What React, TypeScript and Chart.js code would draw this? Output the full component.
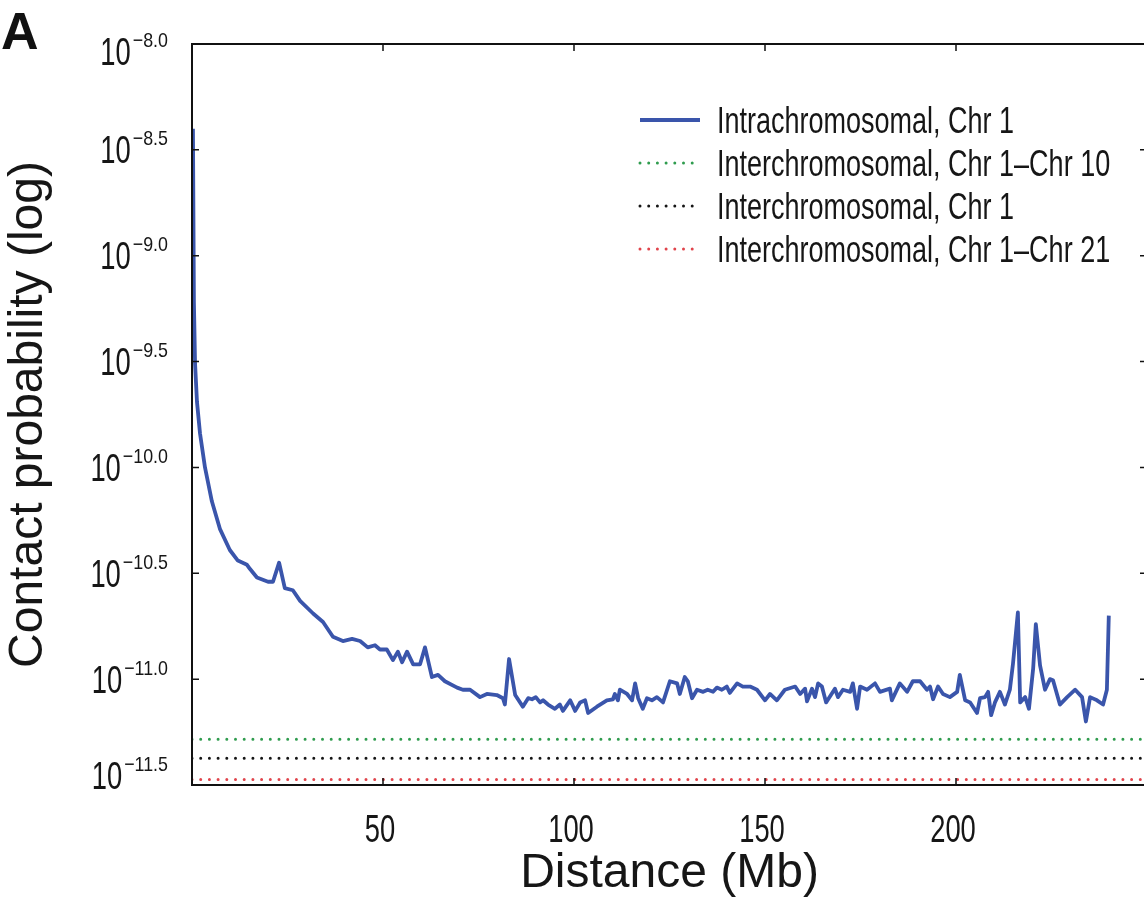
import React, { useEffect, useRef } from 'react';
import { Chart, registerables } from 'chart.js';

Chart.register(...registerables);

// Distance (Mb) and log10 contact probability
const distanceMb = [
  0.25, 0.5, 0.8, 1.3, 2.1, 3.4, 5.2, 7.3, 9.9, 12.0, 14.4, 15.2, 17.0, 19.9, 21.2, 22.8, 24.3, 26.4, 28.3,
  31.7, 34.3, 36.9, 39.5, 41.9, 44.0, 46.0, 47.9, 49.2, 51.0, 52.6, 53.9, 55.0, 56.3, 57.9, 59.7, 61.0,
  62.8, 64.4, 66.2, 69.4, 70.9, 72.8, 75.4, 77.2, 79.8, 81.4, 81.9, 83.0, 84.6, 86.6, 88.0, 89.0, 90.0,
  91.1, 91.9, 93.2, 95.0, 96.3, 97.1, 99.0, 100.3, 101.6, 102.9, 103.7, 106.0, 108.6, 110.2, 110.7, 111.5,
  112.0, 113.9, 115.2, 116.0, 116.8, 118.0, 119.1, 120.4, 121.7, 123.3, 125.1, 127.0, 127.7, 129.0, 129.8,
  130.9, 132.2, 133.8, 135.0, 136.4, 137.4, 138.7, 140.0, 140.8, 142.7, 144.2, 146.1, 147.9, 150.0, 151.3,
  153.1, 155.2, 157.9, 159.2, 160.5, 161.0, 162.3, 163.1, 163.9, 164.9, 166.0, 168.3, 169.1, 170.4, 172.3,
  173.0, 174.1, 174.9, 176.7, 178.8, 180.1, 182.7, 183.2, 185.3, 187.2, 188.7, 190.6, 192.4, 193.2, 194.0,
  195.3, 196.6, 198.4, 200.3, 201.0, 202.4, 203.7, 205.5, 206.3, 207.6, 208.4, 209.2, 210.2, 211.5, 212.8,
  214.1, 214.9, 216.2, 216.8, 218.1, 219.1, 220.2, 220.9, 222.0, 223.3, 224.6, 225.4, 227.2, 229.1, 231.2,
  233.0, 234.0, 235.1, 236.9, 238.5, 239.5, 240.0,
];

const intraChr1 = [
  -8.40, -9.22, -9.51, -9.69, -9.84, -10.0, -10.16, -10.29, -10.39, -10.44, -10.46, -10.48, -10.52, -10.54, -10.54, -10.45, -10.57, -10.58, -10.63,
  -10.69, -10.73, -10.80, -10.82, -10.81, -10.82, -10.85, -10.84, -10.86, -10.86, -10.91, -10.87, -10.92, -10.87, -10.93, -10.93, -10.85,
  -10.99, -10.98, -11.01, -11.04, -11.05, -11.05, -11.085, -11.07, -11.075, -11.09, -11.12, -10.905, -11.075, -11.13, -11.09, -11.095, -11.085,
  -11.11, -11.10, -11.12, -11.14, -11.12, -11.15, -11.10, -11.15, -11.11, -11.10, -11.16, -11.13, -11.10, -11.095, -11.07, -11.10,
  -11.05, -11.07, -11.10, -11.02, -11.09, -11.14, -11.09, -11.10, -11.085, -11.11, -11.01, -11.02, -11.07, -10.99, -11.01,
  -11.09, -11.05, -11.06, -11.05, -11.06, -11.04, -11.05, -11.035, -11.065, -11.02, -11.035, -11.035, -11.05, -11.10, -11.07,
  -11.10, -11.05, -11.035, -11.07, -11.045, -11.105, -11.045, -11.085, -11.02, -11.035, -11.11, -11.045, -11.085, -11.05, -11.06,
  -11.02, -11.14, -11.035, -11.05, -11.02, -11.06, -11.045, -11.10, -11.02, -11.06, -11.01, -11.01, -11.05, -11.035, -11.095,
  -11.035, -11.07, -11.085, -11.06, -10.98, -11.10, -11.11, -11.16, -11.09, -11.085, -11.06, -11.17, -11.11, -11.06, -11.12,
  -11.05, -10.93, -10.685, -11.11, -11.085, -11.14, -10.95, -10.74, -10.935, -11.05, -11.00, -11.005, -11.12, -11.085, -11.05,
  -11.085, -11.20, -11.085, -11.10, -11.12, -11.05, -10.70,
];

// Flat interchromosomal averages (log10), drawn across the full range
const interRangeMb = [0, 250];
const interChr1Chr10 = [-11.284, -11.284];
const interChr1 = [-11.374, -11.374];
const interChr1Chr21 = [-11.474, -11.474];

const seriesLabels = [
  'Intrachromosomal, Chr 1',
  'Interchromosomal, Chr 1\u2013Chr 10',
  'Interchromosomal, Chr 1',
  'Interchromosomal, Chr 1\u2013Chr 21',
];
const seriesColors = ['#3a55ab', '#2f9c4e', '#151515', '#e0434b'];

const xTickValues = [50, 100, 150, 200];
const yMin = -11.5;
const yMax = -8.0;

const SANS = "'Liberation Sans', Arial, sans-serif";
const DOT = [0, 8.7];
const TEXT = '#161616';

function condensedText(ctx: any, text: string, x: number, y: number, size: number, sx: number, align: string, baseline: string) {
  ctx.save();
  ctx.font = size + 'px ' + SANS;
  ctx.textAlign = align;
  ctx.textBaseline = baseline;
  ctx.translate(x, y);
  ctx.scale(sx, 1);
  ctx.fillText(text, 0, 0);
  ctx.restore();
}

const framePlugin = {
  id: 'frame',
  afterDraw(chart: any) {
    const { ctx, chartArea: a, scales } = chart;
    const xs = scales.x;
    const ys = scales.y;
    ctx.save();
    // spines
    ctx.strokeStyle = '#111';
    ctx.lineWidth = 2;
    ctx.strokeRect(a.left, a.top, a.right - a.left, a.bottom - a.top);
    // inward ticks
    ctx.lineWidth = 1.5;
    ctx.beginPath();
    xs.ticks.forEach((t: any) => {
      const px = xs.getPixelForValue(t.value);
      if (px <= a.left + 1 || px >= a.right - 1) return;
      ctx.moveTo(px, a.bottom);
      ctx.lineTo(px, a.bottom - 7);
      ctx.moveTo(px, a.top);
      ctx.lineTo(px, a.top + 7);
    });
    ys.ticks.forEach((t: any) => {
      const py = ys.getPixelForValue(t.value);
      if (py <= a.top + 1 || py >= a.bottom - 1) return;
      ctx.moveTo(a.left, py);
      ctx.lineTo(a.left + 7, py);
      ctx.moveTo(a.right, py);
      ctx.lineTo(a.right - 7, py);
    });
    ctx.stroke();

    ctx.fillStyle = TEXT;
    // x tick labels
    xs.ticks.forEach((t: any) => {
      if (!xTickValues.includes(t.value)) return;
      const px = xs.getPixelForValue(t.value);
      condensedText(ctx, String(t.value), px - 3, a.bottom + 57, 38, 0.72, 'center', 'alphabetic');
    });

    // y tick labels with superscript exponent
    const rightEdge = a.left - 24;
    ys.ticks.forEach((t: any) => {
      const py = ys.getPixelForValue(t.value);
      const cy = Math.min(Math.max(py, a.top + 7), a.bottom - 10);
      const exp = '\u2212' + Math.abs(t.value).toFixed(1);
      ctx.font = '21px ' + SANS;
      const sw = ctx.measureText(exp).width * 0.85;
      const baseline = cy + 13.5;
      condensedText(ctx, exp, rightEdge - sw, baseline - 18, 21, 0.85, 'left', 'alphabetic');
      condensedText(ctx, '10', rightEdge - sw - 2, baseline, 38, 0.72, 'right', 'alphabetic');
    });

    // legend
    const rows = [120, 163, 206, 249];
    const dsets = chart.data.datasets;
    rows.forEach((ry, i) => {
      const ds = dsets[i];
      ctx.beginPath();
      ctx.strokeStyle = ds.borderColor;
      ctx.lineWidth = i === 0 ? 3.8 : 3;
      ctx.lineCap = i === 0 ? 'butt' : 'round';
      ctx.setLineDash(i === 0 ? [] : DOT);
      ctx.moveTo(640, ry);
      ctx.lineTo(700, ry);
      ctx.stroke();
      ctx.setLineDash([]);
      ctx.fillStyle = TEXT;
      condensedText(ctx, ds.label, 717, ry + 13, 36, 0.75, 'left', 'alphabetic');
    });

    // panel letter
    ctx.fillStyle = '#111';
    ctx.font = "bold 52px 'Liberation Sans', sans-serif";
    ctx.textAlign = 'left';
    ctx.textBaseline = 'alphabetic';
    ctx.fillText('A', 1, 49);
    ctx.restore();
  },
};

export default function App() {
  const canvasRef = useRef<HTMLCanvasElement | null>(null);

  useEffect(() => {
    if (!canvasRef.current) return;
    const flat = (vals: number[]) => interRangeMb.map((x, i) => ({ x, y: vals[i] }));
    const chart = new Chart(canvasRef.current, {
      type: 'line',
      data: {
        datasets: [
          {
            label: seriesLabels[0],
            data: distanceMb.map((x, i) => ({ x, y: intraChr1[i] })),
            borderColor: seriesColors[0],
            borderWidth: 3.8,
            pointRadius: 0,
            tension: 0,
            borderJoinStyle: 'round',
          },
          {
            label: seriesLabels[1],
            data: flat(interChr1Chr10),
            borderColor: seriesColors[1],
            borderWidth: 3,
            borderDash: DOT,
            borderCapStyle: 'round',
            pointRadius: 0,
          },
          {
            label: seriesLabels[2],
            data: flat(interChr1),
            borderColor: seriesColors[2],
            borderWidth: 3,
            borderDash: DOT,
            borderCapStyle: 'round',
            pointRadius: 0,
          },
          {
            label: seriesLabels[3],
            data: flat(interChr1Chr21),
            borderColor: seriesColors[3],
            borderWidth: 3,
            borderDash: DOT,
            borderCapStyle: 'round',
            pointRadius: 0,
          },
        ],
      },
      options: {
        animation: false,
        responsive: false,
        events: [],
        layout: { padding: { top: 44, right: 13, left: 0, bottom: 0 } },
        plugins: { legend: { display: false }, tooltip: { enabled: false } },
        scales: {
          x: {
            type: 'linear',
            min: 0,
            max: 250,
            grid: { display: false },
            border: { display: false },
            afterBuildTicks: (s: any) => {
              s.ticks = [0, ...xTickValues, 250].map((v) => ({ value: v }));
            },
            ticks: { display: false },
            title: {
              display: true,
              text: 'Distance (Mb)',
              color: TEXT,
              font: { family: SANS, size: 48 },
              padding: { top: 0, bottom: 4 },
            },
            afterFit: (s: any) => {
              s.height = 122;
            },
          },
          y: {
            type: 'linear',
            min: yMin,
            max: yMax,
            grid: { display: false },
            border: { display: false },
            ticks: { display: false, stepSize: 0.5 },
            title: {
              display: true,
              text: 'Contact probability (log)',
              color: TEXT,
              font: { family: SANS, size: 48 },
              padding: { top: 0, bottom: 0 },
            },
            afterFit: (s: any) => {
              s.width = 192;
            },
          },
        },
      },
      plugins: [framePlugin],
    } as any);
    return () => chart.destroy();
  }, []);

  return (
    <div
      style={{
        position: 'absolute',
        left: 0,
        top: 0,
        width: 1144,
        height: 907,
        overflow: 'hidden',
        background: '#fff',
      }}
    >
      <canvas ref={canvasRef} width={1160} height={907} style={{ display: 'block', width: 1160, height: 907 }} />
    </div>
  );
}
